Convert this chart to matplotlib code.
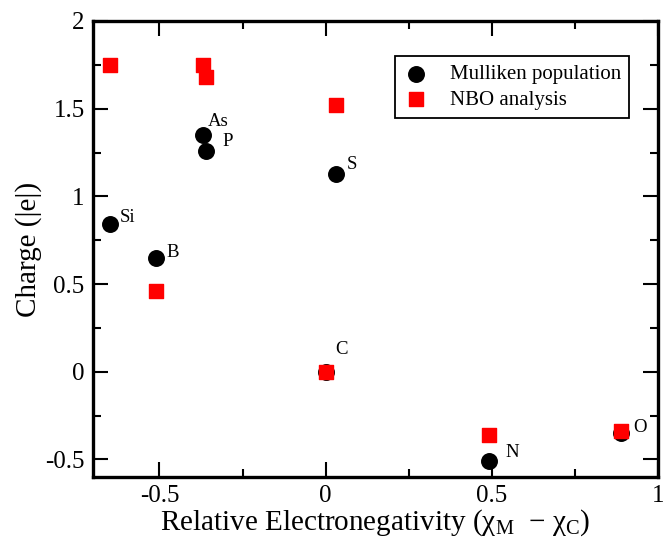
import matplotlib.pyplot as plt
from matplotlib.ticker import MultipleLocator

plt.rcParams['font.family'] = ['Liberation Serif', 'DejaVu Serif']
plt.rcParams['mathtext.fontset'] = 'custom'
plt.rcParams['mathtext.rm'] = 'Liberation Serif'

# data
elements = ['Si', 'B', 'As', 'P', 'S', 'C', 'N', 'O']
rel_en = [-0.65, -0.51, -0.37, -0.36, 0.03, 0.0, 0.49, 0.89]
mulliken = [0.84, 0.65, 1.35, 1.26, 1.13, 0.0, -0.51, -0.35]
nbo = [1.75, 0.46, 1.75, 1.68, 1.52, 0.0, -0.36, -0.34]

# label offsets in pixels (relative to the Mulliken point)
offsets = [(10, 7), (10, 5), (5, 13), (16, 9), (11, 9), (10, 22), (17, 9), (12, 6)]

fig = plt.figure(figsize=(6.65, 5.38), dpi=100)
ax = fig.add_axes([0.1398, 0.1134, 0.8497, 0.8476])

ax.scatter(rel_en, mulliken, s=125, marker='o', color='black', label='Mulliken population', zorder=3)
ax.scatter(rel_en, nbo, s=105, marker='s', color='#ff0000', label='NBO analysis', zorder=4)

for el, x, y, off in zip(elements, rel_en, mulliken, offsets):
    ax.annotate(el, (x, y), xytext=off, textcoords='offset pixels',
                fontsize=13.5, ha='left', va='center')

ax.set_xlim(-0.7, 1.0)
ax.set_ylim(-0.6, 2.0)
ax.xaxis.set_minor_locator(MultipleLocator(0.25))
ax.yaxis.set_minor_locator(MultipleLocator(0.25))
ax.set_xticks([-0.5, 0, 0.5, 1])
ax.set_xticklabels(['-0.5', '0', '0.5', '1'])
ax.set_yticks([-0.5, 0, 0.5, 1, 1.5, 2])
ax.set_yticklabels(['-0.5', '0', '0.5', '1', '1.5', '2'])

ax.tick_params(which='both', direction='in', top=True, right=True, width=1.5, labelsize=18)
ax.tick_params(which='major', length=10.5, pad=6)
ax.tick_params(which='minor', length=5.5)
for sp in ax.spines.values():
    sp.set_linewidth(2.4)

ax.set_xlabel('Relative Electronegativity (χ$_\\mathrm{M}$  − χ$_\\mathrm{C}$)', fontsize=21, labelpad=0)
ax.set_ylabel('Charge (|e|)', fontsize=21, labelpad=2)

leg = ax.legend(loc='upper right', bbox_to_anchor=(0.949, 0.923), borderaxespad=0,
                fontsize=15, frameon=True, fancybox=False, edgecolor='black', framealpha=1,
                handlelength=1.2, handletextpad=1.0, labelspacing=0.3, borderpad=0.4,
                scatterpoints=1)
leg.get_frame().set_linewidth(1.3)

fig.savefig('out.png', dpi=100)
